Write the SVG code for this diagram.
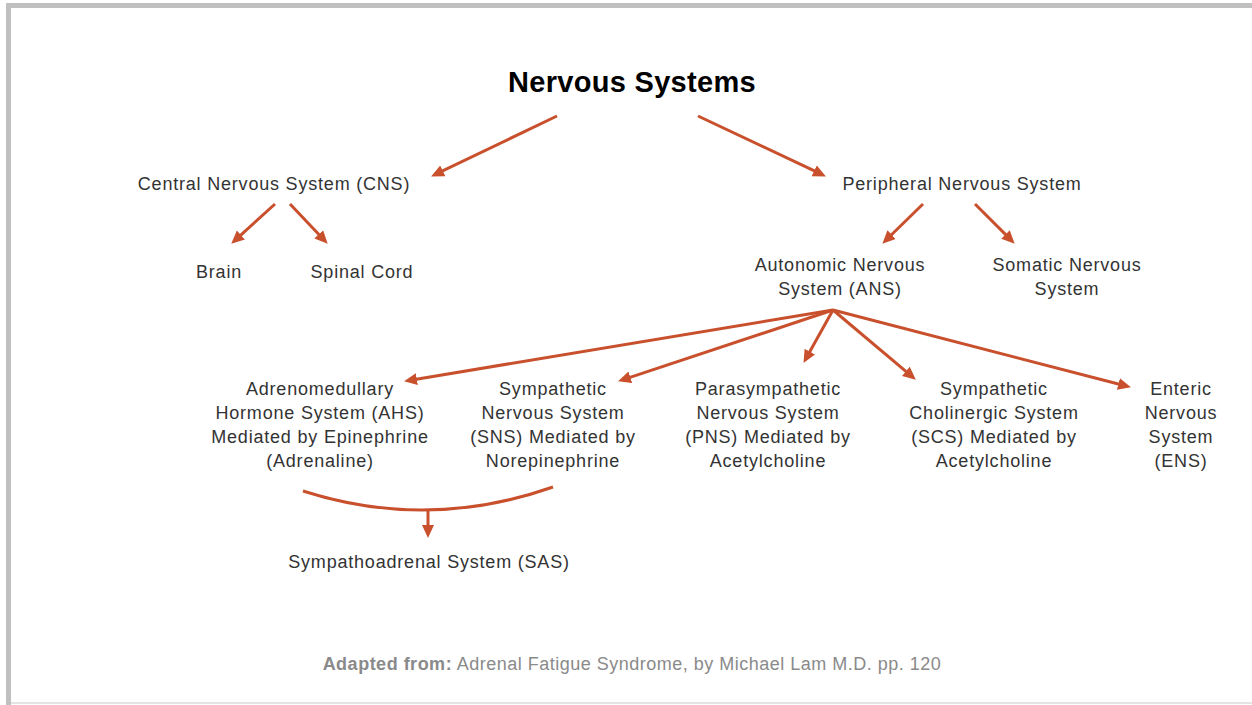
<svg xmlns="http://www.w3.org/2000/svg" width="1252" height="705" viewBox="0 0 1252 705">
<style>
  .t{font-family:"Liberation Sans",Arial,sans-serif;font-size:18px;letter-spacing:0.8px;fill:#333;text-anchor:middle}
  .title{font-family:"Liberation Sans",Arial,sans-serif;font-size:29px;letter-spacing:0.3px;font-weight:bold;fill:#000;text-anchor:middle}
  .foot{font-family:"Liberation Sans",Arial,sans-serif;font-size:18px;letter-spacing:0.5px;fill:#8a8a8a;text-anchor:middle}
  .c{stroke:#c9502d;stroke-width:3;fill:none;marker-end:url(#ah)}
</style>
<defs>
  <marker id="ah" markerUnits="userSpaceOnUse" markerWidth="14" markerHeight="14" refX="2" refY="6" orient="auto">
    <path d="M0,0 L13,6 L0,12 z" fill="#c9502d"/>
  </marker>
</defs>
<rect x="0" y="0" width="1252" height="705" fill="#fff"/>
<rect x="6" y="3" width="1246" height="5" fill="#c0c0c0"/>
<rect x="6" y="3" width="5" height="702" fill="#c0c0c0"/>
<rect x="11" y="702" width="1241" height="2" fill="#e4e4e4"/>

<g id="title"><text class="title" x="632" y="92">Nervous Systems</text></g>
<g id="cns"><text class="t" x="274" y="190">Central Nervous System (CNS)</text></g>
<g id="pns"><text class="t" x="962" y="190">Peripheral Nervous System</text></g>
<g id="brain"><text class="t" x="219" y="278">Brain</text></g>
<g id="spinal"><text class="t" x="362" y="278">Spinal Cord</text></g>
<g id="ans"><text class="t" x="840" y="271">Autonomic Nervous</text><text class="t" x="840" y="295">System (ANS)</text></g>
<g id="somatic"><text class="t" x="1067" y="271">Somatic Nervous</text><text class="t" x="1067" y="295">System</text></g>
<g id="ahs"><text class="t" x="320" y="395">Adrenomedullary</text><text class="t" x="320" y="419">Hormone System  (AHS)</text><text class="t" x="320" y="443">Mediated by Epinephrine</text><text class="t" x="320" y="467">(Adrenaline)</text></g>
<g id="sns"><text class="t" x="553" y="395">Sympathetic</text><text class="t" x="553" y="419">Nervous System</text><text class="t" x="553" y="443">(SNS) Mediated by</text><text class="t" x="553" y="467">Norepinephrine</text></g>
<g id="psns"><text class="t" x="768" y="395">Parasympathetic</text><text class="t" x="768" y="419">Nervous System</text><text class="t" x="768" y="443">(PNS) Mediated by</text><text class="t" x="768" y="467">Acetylcholine</text></g>
<g id="scs"><text class="t" x="994" y="395">Sympathetic</text><text class="t" x="994" y="419">Cholinergic System</text><text class="t" x="994" y="443">(SCS) Mediated by</text><text class="t" x="994" y="467">Acetylcholine</text></g>
<g id="ens"><text class="t" x="1181" y="395">Enteric</text><text class="t" x="1181" y="419">Nervous</text><text class="t" x="1181" y="443">System</text><text class="t" x="1181" y="467">(ENS)</text></g>
<g id="sas"><text class="t" x="429" y="568">Sympathoadrenal System (SAS)</text></g>
<g id="footer"><text class="foot" x="632" y="670"><tspan font-weight="bold">Adapted from:</tspan> Adrenal Fatigue Syndrome, by Michael Lam M.D. pp. 120</text></g>

<g id="connectors">
  <path class="c" d="M557,116 L441,171.7"/>
  <path class="c" d="M698,116 L816,171.7"/>
  <path class="c" d="M275,204 L239.4,236.3"/>
  <path class="c" d="M290,204 L320.1,235.7"/>
  <path class="c" d="M923,204 L890.2,236"/>
  <path class="c" d="M975,204 L1006.9,235.9"/>
  <path class="c" d="M833,310 L414.9,379.4"/>
  <path class="c" d="M833,310 L628.5,377.9"/>
  <path class="c" d="M833,310 L808.9,353.3"/>
  <path class="c" d="M833,310 L907.4,372.6"/>
  <path class="c" d="M833,310 L1120.3,384.5"/>
  <path d="M303,491 Q428,531 553,487" stroke="#c9502d" stroke-width="3" fill="none"/>
  <path class="c" d="M428,510 L428,527"/>
</g>
</svg>
